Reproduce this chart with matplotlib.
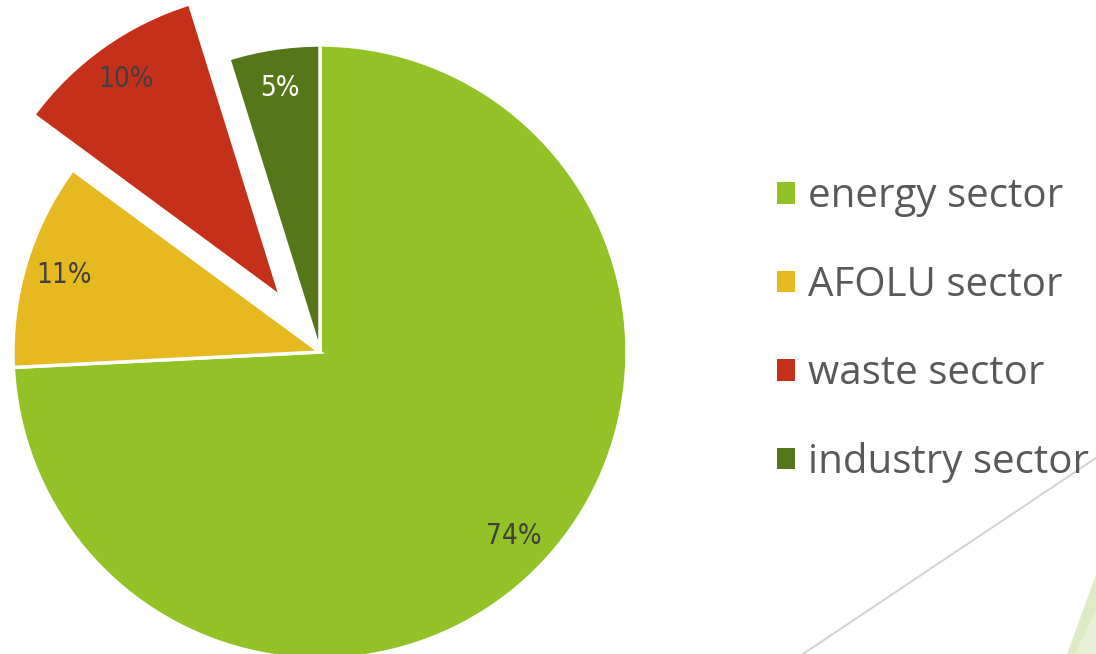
import matplotlib
matplotlib.use("Agg")
import matplotlib.pyplot as plt
from matplotlib.patches import Polygon
from matplotlib.lines import Line2D
from matplotlib import font_manager

categories = ["energy sector", "AFOLU sector", "waste sector", "industry sector"]
values = [74.2, 10.9, 10.1, 4.8]
colors = ["#92C226", "#E6B920", "#C5301A", "#56761A"]
explode = [0, 0, 0.22, 0]
label_colors = ["#404040", "#404040", "#404040", "#FFFFFF"]

names = {f.name for f in font_manager.fontManager.ttflist}
if "Liberation Sans Narrow" in names:
    label_font = dict(family=["Liberation Sans Narrow", "DejaVu Sans"], fontsize=22)
elif "DejaVu Sans Condensed" in names:
    label_font = dict(family=["DejaVu Sans Condensed", "DejaVu Sans"], fontsize=22)
else:
    label_font = dict(family=["DejaVu Sans"], fontstretch="condensed", fontsize=20)

W, H = 1096, 654
fig = plt.figure(figsize=(W / 100, H / 100), dpi=100)
fig.patch.set_facecolor("white")

# decorative background elements (bottom right)
fig.add_artist(Polygon([(1096 / W, 1 - 575 / H), (1067 / W, 0), (1096 / W, 0)],
                       closed=True, transform=fig.transFigure,
                       facecolor="#DDEBC6", edgecolor="none", zorder=0))
fig.add_artist(Polygon([(1096 / W, 1 - 610 / H), (1075 / W, 0), (1096 / W, 0)],
                       closed=True, transform=fig.transFigure,
                       facecolor="#E8F1D6", edgecolor="none", zorder=0))
fig.add_artist(Line2D([803 / W, 1096 / W], [0, 1 - 458 / H], transform=fig.transFigure,
                      color="#D4D4D4", lw=1.5, zorder=0))

ax = fig.add_axes([0, 0, 1, 1])
ax.set_facecolor("none")

R = 307.0
cx, cy = 320.0, 352.0

wedges, texts, autotexts = ax.pie(
    values, colors=colors, explode=explode, startangle=90, counterclock=False,
    autopct="%.0f%%", pctdistance=0.87, radius=1.0,
    wedgeprops=dict(edgecolor="white", linewidth=2.5),
    textprops=label_font,
)
for t, c in zip(autotexts, label_colors):
    t.set_color(c)

ax.set_aspect("auto")
ax.set_xlim(-cx / R, (W - cx) / R)
ax.set_ylim(-(H - cy) / R, cy / R)
ax.axis("off")

leg = ax.legend(
    wedges, categories, loc="center left",
    bbox_to_anchor=(777 / W, 1 - 330 / H), bbox_transform=fig.transFigure,
    frameon=False, prop=dict(family=["Open Sans", "DejaVu Sans"], size=29),
    handlelength=0.44, handleheight=0.44, handletextpad=0.32, labelspacing=1.19,
    borderpad=0, borderaxespad=0,
)
for t in leg.get_texts():
    t.set_color("#595959")
for h in leg.legend_handles:
    h.set_edgecolor("none")

fig.savefig("out.png", dpi=100, facecolor="white")
